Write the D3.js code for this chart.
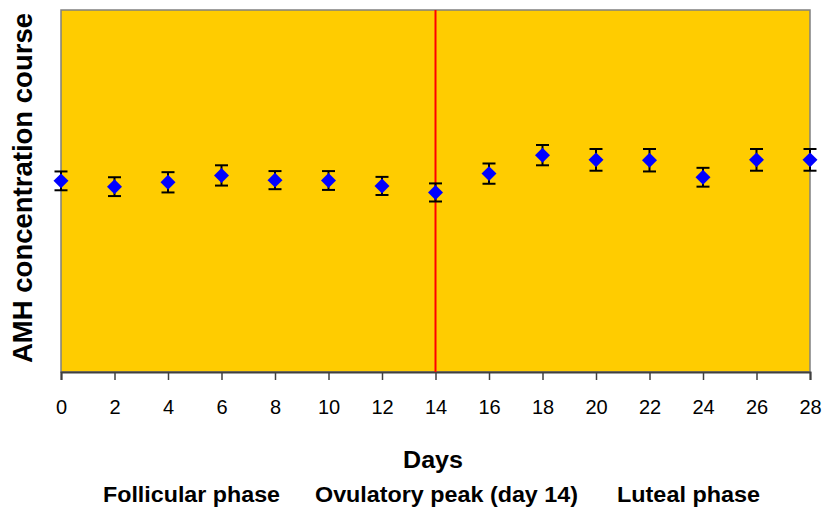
<!DOCTYPE html>
<html>
<head>
<meta charset="utf-8">
<script src="https://cdn.jsdelivr.net/npm/d3@7"></script>
<style>
  body { margin: 0; background: #fff; }
  text { font-family: "Liberation Sans", Arial, sans-serif; }
</style>
</head>
<body>
<script>
(function(){
    "use strict";

    // cycle days and AMH readings (arbitrary units, y axis has no labels)
    const days = [0, 2, 4, 6, 8, 10, 12, 14, 16, 18, 20, 22, 24, 26, 28];
    const amh = [5.28, 5.12, 5.24, 5.43, 5.30, 5.29, 5.14, 4.96, 5.48, 5.99, 5.86, 5.85, 5.38, 5.86, 5.86];
    const amhErr = [0.26, 0.26, 0.28, 0.28, 0.25, 0.26, 0.25, 0.25, 0.28, 0.28, 0.30, 0.31, 0.26, 0.30, 0.30];
    const xTicks = [0, 2, 4, 6, 8, 10, 12, 14, 16, 18, 20, 22, 24, 26, 28];
    const peakDay = 14;
    const phaseLabels = ["Follicular phase", "Ovulatory peak (day 14)", "Luteal phase"];

    let margin = {top: 10, right: 12, bottom: 138, left: 61};
    let width = 822 - margin.left - margin.right;
    let height = 510 - margin.top - margin.bottom;

    let svg = d3.select("body")
        .append("svg")
            .attr("width", 822)
            .attr("height", 510);
    let display = svg.append("g")
            .attr("transform", "translate(" + margin.left + "," + margin.top + ")");

    let xScale = d3.scaleLinear()
        .domain([0, 28])
        .range([0, width]);

    let yScale = d3.scaleLinear()
        .domain([0, 10])
        .range([height, 0]);

    // plot area
    display.append("rect")
        .attr("x", 0)
        .attr("y", 0)
        .attr("width", width)
        .attr("height", height)
        .attr("fill", "#FFCC00")
        .attr("stroke", "#808080")
        .attr("stroke-width", 1.5);

    // x axis
    let xAxis = d3.axisBottom(xScale)
        .tickValues(xTicks)
        .tickSize(8)
        .tickPadding(20);

    let axisG = display.append("g")
        .attr("transform", "translate(0," + height + ")")
        .call(xAxis);
    axisG.select(".domain")
        .attr("stroke", "#404040")
        .attr("stroke-width", 2);
    axisG.selectAll(".tick line")
        .attr("stroke", "#404040")
        .attr("stroke-width", 1.5);
    axisG.selectAll(".tick text")
        .attr("fill", "#000")
        .style("font-size", "20px")
        .style("font-family", "'Liberation Sans', Arial, sans-serif");

    // ovulation line
    display.append("line")
        .attr("x1", xScale(peakDay))
        .attr("x2", xScale(peakDay))
        .attr("y1", 0)
        .attr("y2", height)
        .attr("stroke", "#FF0000")
        .attr("stroke-width", 2);

    // error bars
    let pts = days.map((d, i) => ({day: d, v: amh[i], e: amhErr[i]}));
    let bars = display.selectAll(".err")
        .data(pts)
        .enter()
        .append("g")
            .attr("class", "err")
            .attr("stroke", "#000")
            .attr("stroke-width", 2);
    bars.append("line")
        .attr("x1", d => xScale(d.day))
        .attr("x2", d => xScale(d.day))
        .attr("y1", d => yScale(d.v + d.e))
        .attr("y2", d => yScale(d.v - d.e));
    bars.append("line")
        .attr("x1", d => xScale(d.day) - 6.5)
        .attr("x2", d => xScale(d.day) + 6.5)
        .attr("y1", d => yScale(d.v + d.e))
        .attr("y2", d => yScale(d.v + d.e));
    bars.append("line")
        .attr("x1", d => xScale(d.day) - 6.5)
        .attr("x2", d => xScale(d.day) + 6.5)
        .attr("y1", d => yScale(d.v - d.e))
        .attr("y2", d => yScale(d.v - d.e));

    // diamond markers
    const diamond = {
        draw(ctx, size) {
            let r = Math.sqrt(size / 2);
            ctx.moveTo(0, -r);
            ctx.lineTo(r, 0);
            ctx.lineTo(0, r);
            ctx.lineTo(-r, 0);
            ctx.closePath();
        }
    };
    display.selectAll(".pt")
        .data(pts)
        .enter()
        .append("path")
            .attr("class", "pt")
            .attr("d", d3.symbol().type(diamond).size(112))
            .attr("transform", d => "translate(" + xScale(d.day) + "," + yScale(d.v) + ")")
            .attr("fill", "#0000FF");

    // axis titles
    svg.append("text")
        .attr("transform", "translate(32,188) rotate(-90)")
        .style("text-anchor", "middle")
        .style("font-size", "27.5px")
        .style("font-weight", "bold")
        .attr("textLength", 350)
        .attr("lengthAdjust", "spacingAndGlyphs")
        .text("AMH concentration course");

    svg.append("text")
        .attr("x", 433)
        .attr("y", 468)
        .style("text-anchor", "middle")
        .style("font-size", "23px")
        .style("font-weight", "bold")
        .attr("textLength", 60)
        .attr("lengthAdjust", "spacingAndGlyphs")
        .text("Days");

    const phaseX = [191.5, 446.5, 688.5];
    const phaseW = [177, 263, 143];
    svg.selectAll(".phase")
        .data(phaseLabels)
        .enter()
        .append("text")
            .attr("class", "phase")
            .attr("x", (d, i) => phaseX[i])
            .attr("y", 502)
            .style("text-anchor", "middle")
            .style("font-size", "21.5px")
            .style("font-weight", "bold")
            .attr("textLength", (d, i) => phaseW[i])
            .attr("lengthAdjust", "spacingAndGlyphs")
            .text(d => d);
})()
</script>
</body>
</html>
